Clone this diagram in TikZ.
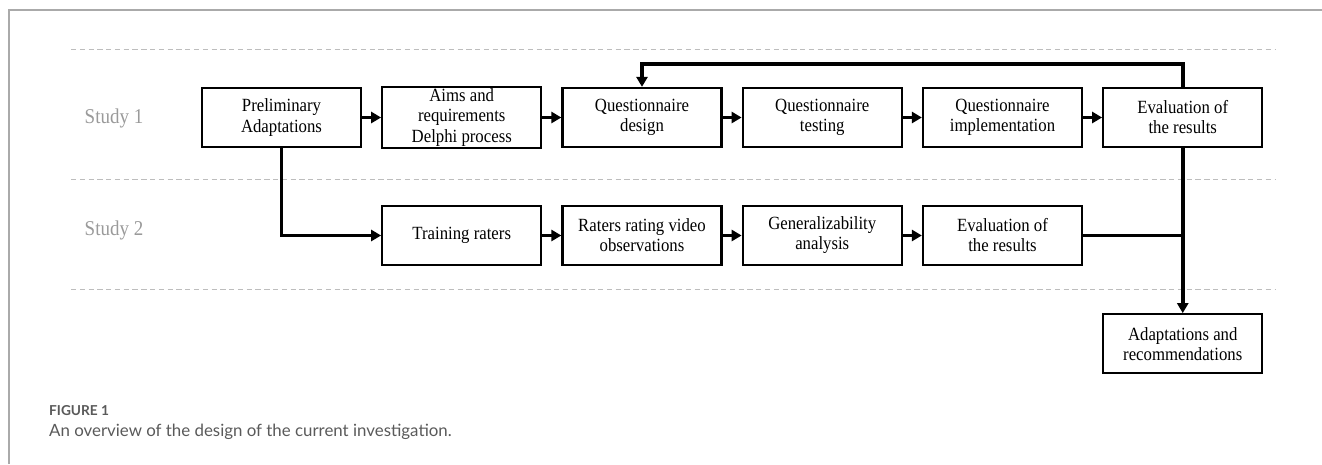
\documentclass[tikz,border=0pt]{standalone}
\usepackage{fontspec}
\setmainfont{Liberation Serif}
\newfontfamily\boxfont[FakeStretch=0.9]{Liberation Serif}
\newfontfamily\capfont{Lato}
\usetikzlibrary{positioning,arrows.meta}
\definecolor{rulegray}{HTML}{BDBDBD}
\definecolor{studygray}{HTML}{9A9A9A}
\definecolor{framegray}{HTML}{AAAAAA}
\definecolor{capgray}{HTML}{5A5A5A}
\tikzset{
  stepbox/.style={draw, line width=1.3pt, minimum width=3.18cm, minimum height=1.18cm,
    inner sep=1pt, align=center, font=\boxfont\fontsize{10.6}{11.4}\selectfont},
  flow/.style={line width=2pt, -{Triangle[length=0.2cm,width=0.22cm]}},
  joinline/.style={line width=2pt},
  lane/.style={rulegray, line width=0.5pt, dash pattern=on 3pt off 2pt},
  studylabel/.style={studygray, font=\boxfont\fontsize{12}{13}\selectfont}
}
\begin{document}
\begin{tikzpicture}[x=0.02cm, y=-0.02cm, node distance = 0.38cm]
    \useasboundingbox (0,0) rectangle (1322,464);
    \draw[framegray, line width=0.6pt] (9,464) -- (9,10) -- (1322,10);
    \draw[lane] (71,49) -- (1275,49);
    \draw[lane] (71,179) -- (1275,179);
    \draw[lane] (71,289) -- (1275,289);

    \node[studylabel] (s1) at (114,118) {Study 1};
    \node[studylabel] (s2) at (114,230) {Study 2};

    \node[stepbox] (prelim) at (281.5,117.5) {Preliminary\\Adaptations};
    \node[stepbox,right = of prelim] (aims) {Aims and\\requirements\\Delphi process};
    \node[stepbox,right = of aims] (qdesign) {Questionnaire\\design};
    \node[stepbox,right = of qdesign] (qtest) {Questionnaire\\testing};
    \node[stepbox,right = of qtest] (qimpl) {Questionnaire\\implementation};
    \node[stepbox,right = of qimpl] (eval1) {Evaluation of\\the results};
    \node[stepbox,below = 1.12cm of aims] (train) {Training raters};
    \node[stepbox,right = of train] (rating) {Raters rating video\\observations};
    \node[stepbox,right = of rating] (general) {Generalizability\\analysis};
    \node[stepbox,right = of general] (eval2) {Evaluation of\\the results};
    \node[stepbox,below = 3.3cm of eval1] (adapt) {Adaptations and\\recommendations};

    \draw[flow] (prelim) -- (aims);
    \draw[flow] (aims) -- (qdesign);
    \draw[flow] (qdesign) -- (qtest);
    \draw[flow] (qtest) -- (qimpl);
    \draw[flow] (qimpl) -- (eval1);
    \draw[flow] (eval1.north) -- ++(0,0.46cm) -| (qdesign.north);
    \draw[flow] (prelim.south) |- (train.west);
    \draw[flow] (train) -- (rating);
    \draw[flow] (rating) -- (general);
    \draw[flow] (general) -- (eval2);
    \draw[flow] (eval1.south) -- (adapt.north);
    \draw[joinline] (eval2.east) -- (eval2.east -| eval1.south);

    \node[anchor=base west, capgray, font=\capfont\bfseries\fontsize{7.8}{9}\selectfont] (fig) at (43,415) {FIGURE 1};
    \node[anchor=base west, capgray, font=\capfont\fontsize{9.6}{12}\selectfont] (cap) at (43,436) {An overview of the design of the current investigation.};
\end{tikzpicture}
\end{document}
